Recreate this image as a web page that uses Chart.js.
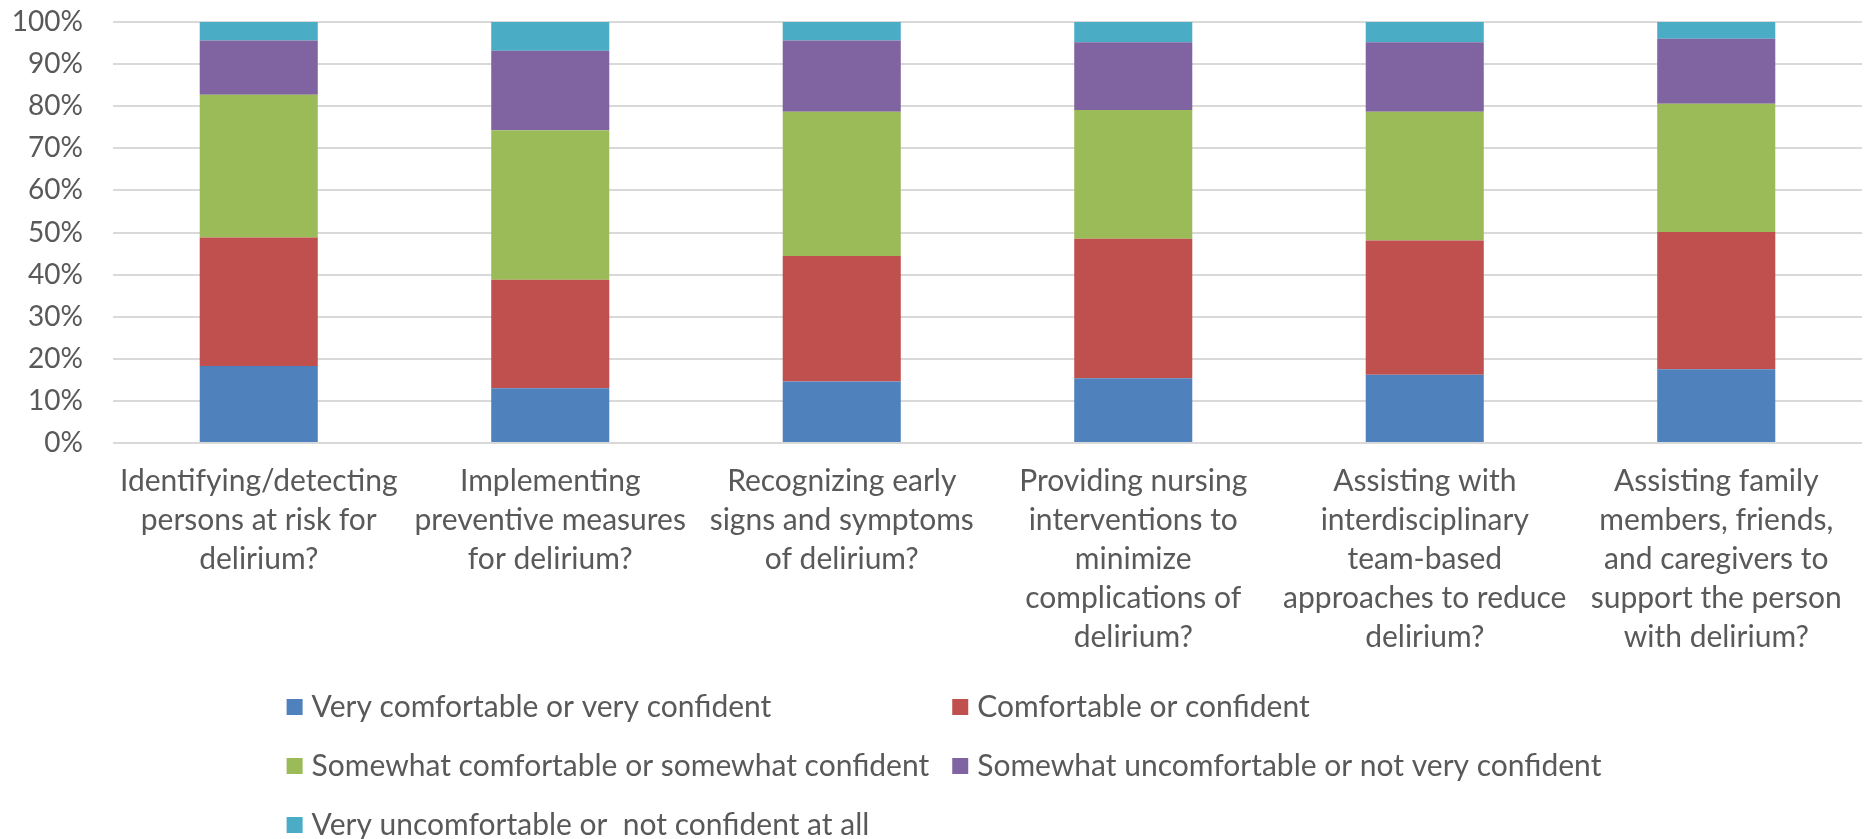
<!DOCTYPE html>
<html>
<head>
<meta charset="utf-8">
<script src="https://cdn.jsdelivr.net/npm/chart.js@4.4.1/dist/chart.umd.min.js"></script>
<style>
	html, body { margin: 0; padding: 0; background: #fff; }
	#wrap { width: 1864px; height: 839px; position: relative; }
</style>
</head>
<body>
<div id="wrap"><canvas id="chart__bar--delirium"></canvas></div>
<script>
// Categories (wrapped like the original)
const categories = [
	["Identifying/detecting", "persons at risk for", "delirium?"],
	["Implementing", "preventive measures", "for delirium?"],
	["Recognizing early", "signs and symptoms", "of delirium?"],
	["Providing nursing", "interventions to", "minimize", "complications of", "delirium?"],
	["Assisting with", "interdisciplinary", "team-based", "approaches to reduce", "delirium?"],
	["Assisting family", "members, friends,", "and caregivers to", "support the person", "with delirium?"],
];

const seriesNames = [
	"Very comfortable or very confident",
	"Comfortable or confident",
	"Somewhat comfortable or somewhat confident",
	"Somewhat uncomfortable or not very confident",
	"Very uncomfortable or  not confident at all",
];

// Percent values per series
const veryComfortable = [18.3, 13.0, 14.6, 15.4, 16.2, 17.5];
const comfortable = [30.5, 25.8, 29.8, 33.1, 31.9, 32.6];
const somewhatComfortable = [33.9, 35.5, 34.3, 30.6, 30.6, 30.5];
const somewhatUncomfortable = [12.9, 18.9, 16.9, 16.1, 16.5, 15.4];
const veryUncomfortable = [4.4, 6.8, 4.4, 4.8, 4.8, 4.0];

const yTicks = [0, 10, 20, 30, 40, 50, 60, 70, 80, 90, 100];

const colors = ["#4f81bd", "#c0504d", "#9bbb59", "#8064a2", "#4bacc6"];
const textColor = "#595959";
const fontFamily = "Lato, 'Open Sans', sans-serif";

document.addEventListener("DOMContentLoaded", () => {
	initChart();
});

// Legend drawn as a two column grid, like the Excel one
const gridLegendPlugin = () => ({
	id: "gridLegend",
	afterDraw: (chart) => {
		const ctx = chart.ctx;
		const boxSize = 16;
		const boxGap = 9;
		const colGap = 23;
		const rowHeight = 59;
		const lastRowY = chart.height - 14;
		const items = chart.data.datasets.map((ds) => ({ text: ds.label, color: ds.backgroundColor }));

		ctx.save();
		ctx.font = `30px ${fontFamily}`;
		ctx.textBaseline = "middle";
		ctx.textAlign = "left";

		const widths = items.map((it) => boxSize + boxGap + ctx.measureText(it.text).width);
		const col1 = Math.max(...widths.filter((_, i) => i % 2 === 0));
		const col2 = Math.max(...widths.filter((_, i) => i % 2 === 1));
		const total = col1 + colGap + col2;
		const left = (chart.width - total) / 2 + 12;
		const rows = Math.ceil(items.length / 2);

		items.forEach((it, i) => {
			const row = Math.floor(i / 2);
			const x = i % 2 === 0 ? left : left + col1 + colGap;
			const y = lastRowY - (rows - 1 - row) * rowHeight;
			ctx.fillStyle = it.color;
			ctx.fillRect(x, y - boxSize / 2, boxSize, boxSize);
			ctx.fillStyle = textColor;
			ctx.fillText(it.text, x + boxSize + boxGap, y);
		});
		ctx.restore();
	},
});

const getData = () => ({
	labels: categories,
	datasets: [veryComfortable, comfortable, somewhatComfortable, somewhatUncomfortable, veryUncomfortable].map(
		(values, i) => ({
			label: seriesNames[i],
			data: values,
			backgroundColor: colors[i],
			borderWidth: 0,
			categoryPercentage: 1,
			barPercentage: 0.405,
		})
	),
});

const getOptions = () => ({
	responsive: true,
	maintainAspectRatio: false,
	animation: false,
	layout: {
		padding: { top: 22, left: 12, right: 2, bottom: 163 },
	},
	plugins: {
		legend: { display: false },
		tooltip: { enabled: false },
	},
	scales: {
		x: {
			stacked: true,
			grid: { display: false, drawTicks: false },
			border: { display: false },
			afterFit: (axis) => {
				axis.paddingLeft = 0;
				axis.paddingRight = 0;
			},
			ticks: {
				color: textColor,
				padding: 19,
				maxRotation: 0,
				autoSkip: false,
				font: { family: fontFamily, size: 30, lineHeight: 1.3 },
			},
		},
		y: {
			stacked: true,
			min: 0,
			max: 100,
			afterBuildTicks: (axis) => {
				axis.ticks = yTicks.map((v) => ({ value: v }));
			},
			afterFit: (axis) => {
				axis.width = 101;
				axis.paddingTop = 0;
				axis.paddingBottom = 0;
			},
			grid: { color: "#d9d9d9", lineWidth: 2, drawTicks: false },
			border: { display: false },
			ticks: {
				color: textColor,
				padding: 30,
				font: { family: fontFamily, size: 28 },
				callback: (value) => `${value}%`,
			},
		},
	},
});

const initChart = () => {
	const ctx = document.getElementById("chart__bar--delirium");
	if (!ctx) return;
	// eslint-disable-next-line no-undef
	new Chart(ctx, {
		type: "bar",
		data: getData(),
		options: getOptions(),
		plugins: [gridLegendPlugin()],
	});
};
</script>
</body>
</html>
